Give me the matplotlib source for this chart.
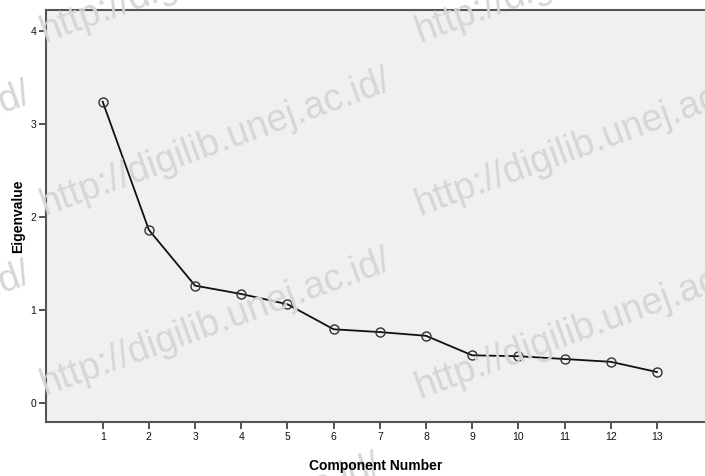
import matplotlib.pyplot as plt

components = list(range(1, 14))
eigenvalues = [3.24, 1.86, 1.26, 1.17, 1.06, 0.79, 0.76, 0.72, 0.51, 0.50, 0.47, 0.44, 0.33]
y_ticks = [0, 1, 2, 3, 4]

watermark = "http://digilib.unej.ac.id/"
# (x, y) of the watermark start, in figure pixels from top-left
watermark_spots = [(45, 42), (420, 42), (45, 215), (420, 215),
                   (45, 395), (420, 398), (35, 600), (-315, 50), (-315, 228), (-315, 408)]

fig = plt.figure(figsize=(7.05, 4.76), dpi=100)
ax = fig.add_axes([46 / 705, 54 / 476, 659 / 705, 412 / 476])
ax.set_facecolor('#f0f0f0')

for wx, wy in watermark_spots:
    fig.text(wx / 705, 1 - wy / 476, watermark, fontsize=27, color='#d6d6d6',
             rotation=20, rotation_mode='anchor', ha='left', va='baseline',
             family='Liberation Sans', zorder=0.5)

ax.plot(components, eigenvalues, color='#111111', linewidth=1.3, marker='o',
        markersize=6.5, markerfacecolor='none', markeredgecolor='#333333',
        markeredgewidth=1.0, zorder=3)

ax.set_xlim(-0.227, 14.04)
ax.set_ylim(-0.208, 4.227)
ax.set_xticks(components)
ax.set_yticks(y_ticks)
ax.tick_params(direction='out', length=5, width=1.2, color='#333333',
               labelsize=7.5, labelcolor='#111111', pad=2)
for lab in ax.get_xticklabels() + ax.get_yticklabels():
    lab.set_family('Liberation Sans')

for side in ['left', 'bottom', 'top']:
    ax.spines[side].set_color('#555555')
    ax.spines[side].set_linewidth(1.5)
ax.spines['right'].set_visible(False)

fig.text(18 / 705, 1 - 216 / 476, 'Eigenvalue', rotation=90, ha='center', va='center',
         fontsize=10, fontweight='bold', family='Liberation Sans')
fig.text(376 / 705, 1 - 466 / 476, 'Component Number', ha='center', va='center',
         fontsize=10, fontweight='bold', family='Liberation Sans')

fig.savefig('out.png', dpi=100)
